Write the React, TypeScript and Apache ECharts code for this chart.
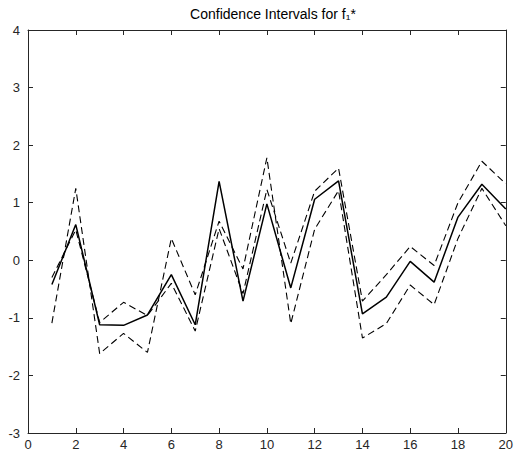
import React, { useEffect, useRef } from "react";
import * as echarts from "echarts";

const xValues = [1, 2, 3, 4, 5, 6, 7, 8, 9, 10, 11, 12, 13, 14, 15, 16, 17, 18, 19, 20];
const estimate = [-0.42, 0.62, -1.12, -1.13, -0.95, -0.25, -1.12, 1.37, -0.71, 0.98, -0.48, 1.06, 1.38, -0.93, -0.64, -0.02, -0.38, 0.75, 1.32, 0.89];
const boundA = [-1.09, 1.25, -1.62, -1.27, -1.6, 0.38, -0.6, 0.68, -0.15, 1.78, -1.1, 0.54, 1.21, -1.35, -1.1, -0.43, -0.77, 0.38, 1.25, 0.6];
const boundB = [-0.3, 0.53, -1.08, -0.73, -0.96, -0.4, -1.23, 0.55, -0.58, 1.23, -0.05, 1.2, 1.6, -0.71, -0.25, 0.24, -0.09, 1.0, 1.72, 1.33];
const titleText = "Confidence Intervals for f\u2081*";

const pairs = (ys: number[]) => xValues.map((x, i) => [x, ys[i]]);

export default function App() {
  const ref = useRef<HTMLDivElement>(null);
  useEffect(() => {
    if (!ref.current) return;
    const chart = echarts.init(ref.current, undefined, { renderer: "svg" });
    const font = "Liberation Sans, Arial, Helvetica, sans-serif";
    const axisCommon = {
      axisLine: { show: true, onZero: false, lineStyle: { color: "#262626", width: 1 } },
      axisTick: { show: true, inside: true, length: 5, lineStyle: { color: "#262626", width: 1 } },
      splitLine: { show: false },
    };
    chart.setOption({
      animation: false,
      backgroundColor: "#ffffff",
      title: {
        text: titleText,
        left: 268,
        top: 2,
        textAlign: "center",
        textStyle: { fontFamily: font, fontSize: 14, fontWeight: "normal", color: "#000" },
      },
      grid: { left: 28, top: 30, width: 480, height: 403, containLabel: false },
      xAxis: [
        {
          type: "value",
          min: 0,
          max: 20,
          interval: 2,
          position: "bottom",
          ...axisCommon,
          axisLabel: { show: true, margin: 5, color: "#262626", fontFamily: font, fontSize: 13 },
        },
        {
          type: "value",
          min: 0,
          max: 20,
          interval: 2,
          position: "top",
          ...axisCommon,
          axisLabel: { show: false },
        },
      ],
      yAxis: [
        {
          type: "value",
          min: -3,
          max: 4,
          interval: 1,
          position: "left",
          ...axisCommon,
          axisLabel: { show: true, margin: 8, color: "#262626", fontFamily: font, fontSize: 13 },
        },
        {
          type: "value",
          min: -3,
          max: 4,
          interval: 1,
          position: "right",
          ...axisCommon,
          axisLabel: { show: false },
        },
      ],
      series: [
        {
          type: "line",
          data: pairs(boundA),
          showSymbol: false,
          lineStyle: { color: "#000", width: 1.1, type: [7, 4] },
        },
        {
          type: "line",
          data: pairs(boundB),
          showSymbol: false,
          lineStyle: { color: "#000", width: 1.1, type: [7, 4] },
        },
        {
          type: "line",
          data: pairs(estimate),
          showSymbol: false,
          lineStyle: { color: "#000", width: 1.5 },
        },
      ],
    });
    return () => chart.dispose();
  }, []);
  return (
    <div
      ref={ref}
      style={{ position: "fixed", left: 0, top: 0, width: 516, height: 457, background: "#fff" }}
    />
  );
}
